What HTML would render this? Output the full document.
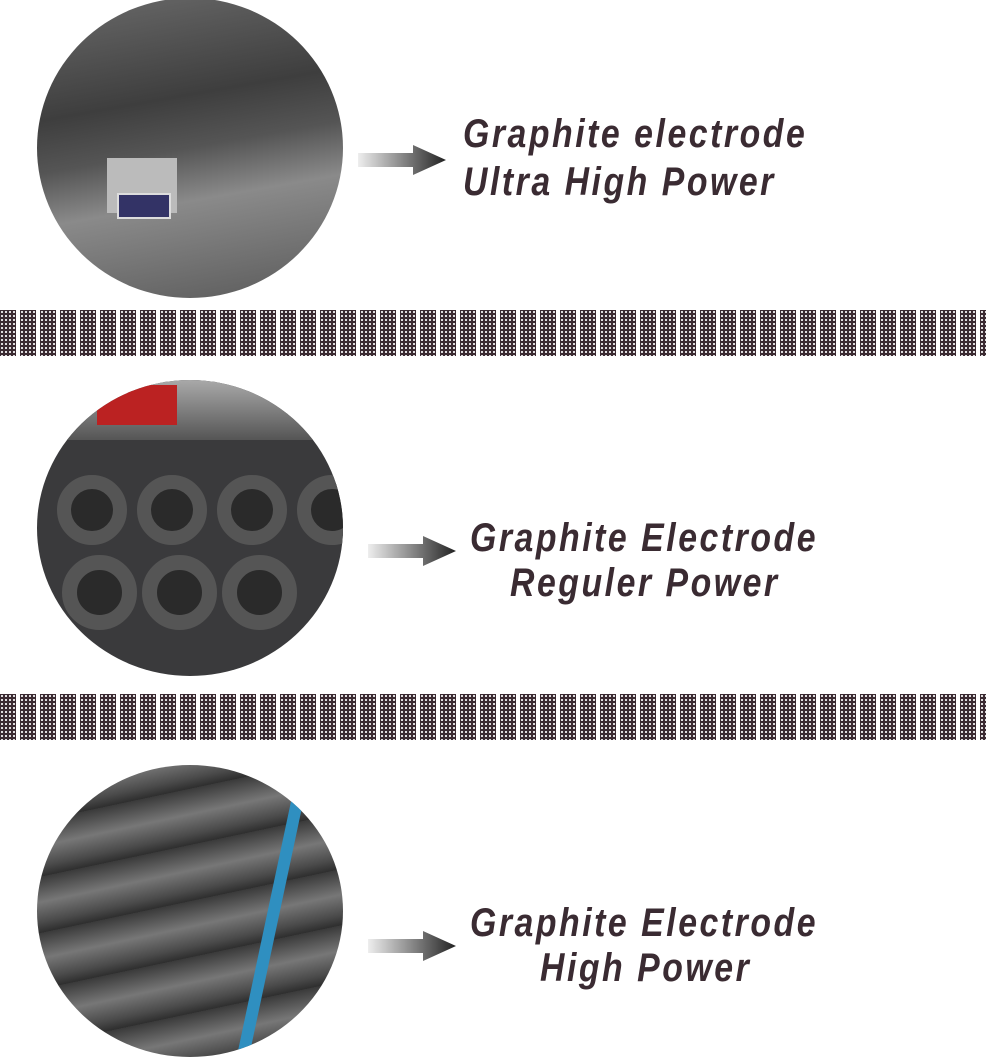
<!DOCTYPE html>
<html><head><style>
body{margin:0;width:986px;height:1060px;background:#fff;position:relative;overflow:hidden;font-family:"Liberation Sans",sans-serif}
.c{position:absolute;border-radius:50%;overflow:hidden}
.band{position:absolute;left:0;width:986px;height:46px;
background:
radial-gradient(circle,#fff 0.8px,transparent 1.2px) 0 0/4px 4px,
repeating-linear-gradient(90deg,#3a2a31 0 16px,#fff 16px 20px);}
.t{position:absolute;font-weight:bold;font-style:italic;font-size:40px;color:#3a2b32;letter-spacing:3px;transform-origin:0 0;transform:scaleX(0.845);white-space:nowrap;line-height:1}
.ar{position:absolute;width:88px;height:30px}
</style></head><body>
<div class="c" style="left:37px;top:-2px;width:306px;height:300px;background:linear-gradient(170deg,#6a6a6a 0%,#3e3e3e 35%,#555 50%,#8a8a8a 65%,#5a5a5a 100%)">
 <div style="position:absolute;left:70px;top:160px;width:70px;height:55px;background:#bbb"></div>
 <div style="position:absolute;left:80px;top:195px;width:50px;height:22px;background:#336;border:2px solid #ddd"></div>
</div>
<div class="band" style="top:310px"></div>
<div class="c" style="left:37px;top:380px;width:306px;height:296px;background:#3a3a3c">
 <div style="position:absolute;left:0;top:0;width:306px;height:60px;background:linear-gradient(#a9a9a9,#555)"></div>
 <div style="position:absolute;left:60px;top:5px;width:80px;height:40px;background:#b22"></div>
 <div style="position:absolute;left:20px;top:95px;width:70px;height:70px;border-radius:50%;border:14px solid #555;background:#2a2a2a;box-sizing:border-box"></div>
 <div style="position:absolute;left:100px;top:95px;width:70px;height:70px;border-radius:50%;border:14px solid #555;background:#2a2a2a;box-sizing:border-box"></div>
 <div style="position:absolute;left:180px;top:95px;width:70px;height:70px;border-radius:50%;border:14px solid #555;background:#2a2a2a;box-sizing:border-box"></div>
 <div style="position:absolute;left:260px;top:95px;width:70px;height:70px;border-radius:50%;border:14px solid #555;background:#2a2a2a;box-sizing:border-box"></div>
 <div style="position:absolute;left:25px;top:175px;width:75px;height:75px;border-radius:50%;border:15px solid #555;background:#2a2a2a;box-sizing:border-box"></div>
 <div style="position:absolute;left:105px;top:175px;width:75px;height:75px;border-radius:50%;border:15px solid #555;background:#2a2a2a;box-sizing:border-box"></div>
 <div style="position:absolute;left:185px;top:175px;width:75px;height:75px;border-radius:50%;border:15px solid #555;background:#2a2a2a;box-sizing:border-box"></div>
</div>
<div class="band" style="top:694px"></div>
<div class="c" style="left:37px;top:765px;width:306px;height:292px;background:repeating-linear-gradient(168deg,#3a3a3a 0,#777 25px,#4a4a4a 45px,#2e2e2e 55px)">
 <div style="position:absolute;left:230px;top:0;width:12px;height:300px;background:#2f8fc0;transform:rotate(12deg)"></div>
</div>
<svg class="ar" style="left:358px;top:145px" viewBox="0 0 88 30"><defs><linearGradient id="g" x1="0" x2="1"><stop offset="0" stop-color="#eee"/><stop offset="1" stop-color="#222"/></linearGradient></defs><path d="M0 8H55V0L88 15 55 30V22H0Z" fill="url(#g)"/></svg>
<svg class="ar" style="left:368px;top:536px" viewBox="0 0 88 30"><path d="M0 8H55V0L88 15 55 30V22H0Z" fill="url(#g)"/></svg>
<svg class="ar" style="left:368px;top:931px" viewBox="0 0 88 30"><path d="M0 8H55V0L88 15 55 30V22H0Z" fill="url(#g)"/></svg>
<div class="t" style="left:463px;top:114px">Graphite electrode</div>
<div class="t" style="left:463px;top:162px">Ultra High Power</div>
<div class="t" style="left:470px;top:518px">Graphite Electrode</div>
<div class="t" style="left:510px;top:563px">Reguler Power</div>
<div class="t" style="left:470px;top:903px">Graphite Electrode</div>
<div class="t" style="left:540px;top:948px">High Power</div>
</body></html>
